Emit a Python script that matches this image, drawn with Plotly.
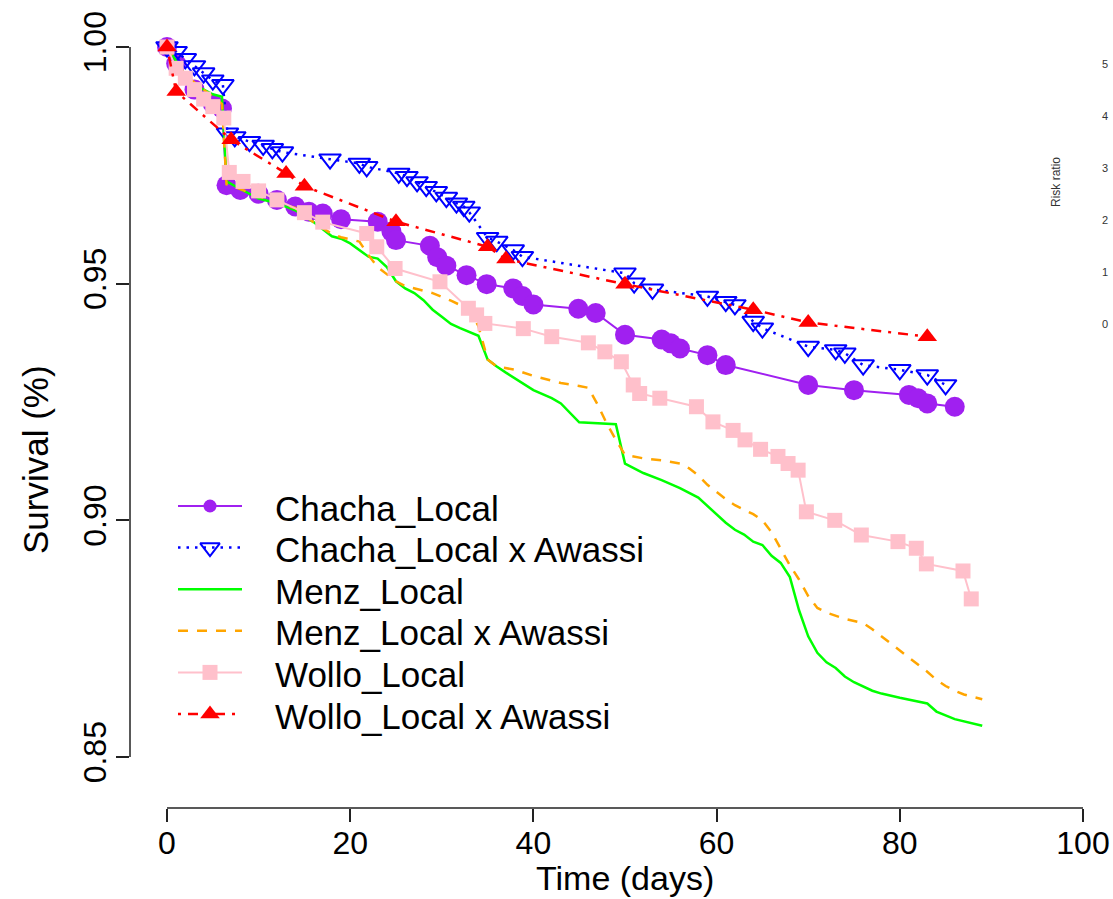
import plotly.graph_objects as go

# ---------------- data ----------------
series_names = ["Chacha_Local", "Chacha_Local x Awassi", "Menz_Local",
                "Menz_Local x Awassi", "Wollo_Local", "Wollo_Local x Awassi"]

chacha_t = [0, 1, 3, 5, 6, 6.5, 8, 10, 12, 14, 15.5, 17, 19, 23, 24.5, 25, 28.7, 29.5, 30.5,
            32.7, 34.9, 37.8, 38.8, 40, 44.9, 46.8, 50, 54, 55, 56, 59, 61, 70, 75, 81, 82, 83, 86]
chacha_s = [1.0, 0.9965, 0.991, 0.988, 0.987, 0.9708, 0.9698, 0.969, 0.9677, 0.9663, 0.9652,
            0.9648, 0.9636, 0.9631, 0.961, 0.9592, 0.958, 0.9556, 0.9538, 0.9518, 0.9499,
            0.949, 0.9474, 0.9456, 0.9447, 0.9438, 0.9392, 0.9382, 0.9374, 0.9363, 0.9349,
            0.9328, 0.9286, 0.9275, 0.9265, 0.9258, 0.9247, 0.924]

chachax_t = [0, 1, 2, 3, 4, 5, 6.1, 6.6, 7.4, 9, 10.5, 11.5, 12.6, 17.8, 21, 21.8, 25.3, 26.2,
             27.3, 28.3, 29.4, 30.5, 31.6, 32.4, 33, 35, 36, 37.8, 38.8, 50, 51, 53, 59, 61,
             62, 64, 65, 70, 73, 74, 76, 80, 83, 85]
chachax_s = [1.0, 0.999, 0.9975, 0.996, 0.9945, 0.993, 0.992, 0.9818, 0.981, 0.980, 0.9792,
             0.9785, 0.9778, 0.9763, 0.9754, 0.9747, 0.9733, 0.9726, 0.9715, 0.9705, 0.9694,
             0.9682, 0.967, 0.9663, 0.9651, 0.9597, 0.9589, 0.9571, 0.9557, 0.9522, 0.9501,
             0.9488, 0.9473, 0.9462, 0.9455, 0.942, 0.9406, 0.9367, 0.936, 0.9353, 0.9328,
             0.9318, 0.9307, 0.9286]

menz_t = [0, 1, 2, 3, 4, 5, 6, 6.5, 8, 10, 12, 14, 16, 18, 19, 20, 22, 23, 24, 25, 26, 27, 28,
          29, 30, 31, 32, 33, 34, 35, 36, 37, 38, 40, 42, 43, 45, 47, 49, 50, 52, 54, 56, 58,
          59, 61, 62, 63, 64, 65, 66, 67, 68, 69, 70, 71, 72, 73, 74, 75, 77, 78, 80, 82, 83,
          84, 86, 89]
menz_s = [1.0, 0.997, 0.994, 0.992, 0.991, 0.990, 0.9895, 0.9716, 0.970, 0.968, 0.967, 0.9655,
          0.963, 0.960, 0.9595, 0.9585, 0.9557, 0.9553, 0.9535, 0.9505, 0.949, 0.948, 0.9465,
          0.9445, 0.943, 0.9415, 0.9406, 0.9398, 0.939, 0.934, 0.9325, 0.9312, 0.930, 0.9275,
          0.9258, 0.9247, 0.9207, 0.9205, 0.9203, 0.912, 0.910, 0.9085, 0.9068, 0.9048, 0.903,
          0.8995, 0.898, 0.897, 0.8955, 0.8948, 0.8925, 0.891, 0.888, 0.881, 0.8755, 0.872,
          0.870, 0.8688, 0.867, 0.8658, 0.864, 0.8634, 0.8625, 0.8617, 0.8613, 0.8596, 0.858,
          0.8566]

menzx_t = [0, 1, 2, 3, 4, 5, 6, 6.5, 8, 10, 12, 14, 16, 18, 19, 21, 22, 23, 24, 25, 26, 28, 29,
           31, 33, 34, 35, 36, 38, 40, 43, 45, 46, 47, 48, 49, 50, 52, 54, 56, 57, 58, 59, 61,
           62, 64, 65, 66, 67, 68, 69, 70, 71, 72, 74, 76, 77, 78, 79, 80, 81, 82, 83, 84, 85,
           86, 87, 89]
menzx_s = [1.0, 0.997, 0.994, 0.9925, 0.991, 0.9895, 0.988, 0.971, 0.970, 0.9685, 0.967, 0.966,
           0.963, 0.9605, 0.9598, 0.9589, 0.956, 0.9535, 0.952, 0.9505, 0.9495, 0.9485, 0.948,
           0.9464, 0.9446, 0.941, 0.934, 0.9325, 0.9318, 0.9305, 0.929, 0.9284, 0.928, 0.9245,
           0.9205, 0.917, 0.9138, 0.9131, 0.9127, 0.912, 0.911, 0.9095, 0.9075, 0.9045, 0.9032,
           0.9013, 0.900, 0.8975, 0.894, 0.8905, 0.8875, 0.884, 0.8815, 0.8805, 0.8792, 0.8783,
           0.877, 0.8755, 0.874, 0.8725, 0.871, 0.8695, 0.868, 0.8663, 0.865, 0.864, 0.8632,
           0.8622]

wollo_t = [0, 1, 2, 3, 4, 5, 6.2, 6.8, 8.3, 10, 12, 15, 17, 21.8, 22.9, 24.9, 29.8, 32.9, 33.8,
           34.7, 38.9, 42, 46, 47.8, 49.6, 50.9, 51.6, 53.8, 57.8, 59.6, 61.8, 63.1, 64.8, 66.7,
           67.8, 68.9, 69.8, 72.9, 75.8, 79.8, 81.8, 82.9, 86.9, 87.8]
wollo_s = [1.0, 0.9955, 0.9934, 0.991, 0.989, 0.9874, 0.985, 0.9735, 0.9716, 0.9696, 0.9677,
           0.965, 0.963, 0.9606, 0.9578, 0.9532, 0.9504, 0.9448, 0.9434, 0.9416, 0.9405, 0.9388,
           0.9375, 0.9356, 0.9335, 0.9286, 0.9268, 0.9258, 0.924, 0.9208, 0.919, 0.917, 0.915,
           0.9135, 0.912, 0.9106, 0.9018, 0.900, 0.8969, 0.8955, 0.8941, 0.8908, 0.8893, 0.8834]

wollox_t = [0, 1, 7, 13, 15, 25, 35, 37, 50, 64, 70, 83]
wollox_s = [1.0, 0.9906, 0.9804, 0.9733, 0.9706, 0.9631, 0.9578, 0.9552, 0.9499, 0.9445,
            0.9418, 0.9388]

x_ticks = [0, 20, 40, 60, 80, 100]
y_ticks = [0.85, 0.90, 0.95, 1.00]
y_tick_labels = ["0.85", "0.90", "0.95", "1.00"]
risk_ticks = ["5", "4", "3", "2", "1", "0"]

# ---------------- layout geometry (pixels) ----------------
W, H = 1113, 899
PL, PR, PT, PB = 130, 1100, 30, 808          # plot area box
X0PX, X100PX = 167, 1083                      # pixel of t=0 and t=100
Y100PX, Y085PX = 47, 757                      # pixel of S=1.00 and S=0.85
xs = (X100PX - X0PX) / 100.0
ys = (Y085PX - Y100PX) / 0.15
x_range = [(PL - X0PX) / xs, (PR - X0PX) / xs]
y_range = [0.85 - (PB - Y085PX) / ys, 1.0 + (Y100PX - PT) / ys]


def pxx(px):
    return (px - PL) / (PR - PL)


def pxy(py):
    return (PB - py) / (PB - PT)


FONT = "Liberation Sans, Arial, Helvetica, sans-serif"

styles = [
    dict(color="#A020F0", width=2, dash="solid", symbol="circle", size=20, lsize=13, mode="lines+markers"),
    dict(color="#0000FF", width=2.5, dash="2.5px,6px", symbol="triangle-down-open", size=19, lsize=17, mode="lines+markers"),
    dict(color="#00FF00", width=2.5, dash="solid", symbol=None, size=0, lsize=0, mode="lines"),
    dict(color="#FFA500", width=2.5, dash="10px,9px", symbol=None, size=0, lsize=0, mode="lines"),
    dict(color="#FFC0CB", width=2, dash="solid", symbol="square", size=15, lsize=15, mode="lines+markers"),
    dict(color="#FF0000", width=2.5, dash="3px,7px,10px,7px", symbol="triangle-up", size=17, lsize=17, mode="lines+markers"),
]
data = [(chacha_t, chacha_s), (chachax_t, chachax_s), (menz_t, menz_s),
        (menzx_t, menzx_s), (wollo_t, wollo_s), (wollox_t, wollox_s)]

fig = go.Figure()
for name, (t, s), st in zip(series_names, data, styles):
    kw = dict(x=t, y=s, name=name, mode=st["mode"], showlegend=False, cliponaxis=False,
              line=dict(color=st["color"], width=st["width"], dash=st["dash"]))
    if st["symbol"]:
        mk = dict(symbol=st["symbol"], size=st["size"], color=st["color"])
        if st["symbol"].endswith("open"):
            mk["line"] = dict(color=st["color"], width=2)
        else:
            mk["line"] = dict(width=0)
        kw["marker"] = mk
    fig.add_trace(go.Scatter(**kw))

# ---------------- manual legend (pixel-space overlay axes) ----------------
LEG_X0, LEG_XM, LEG_X1, LEG_TX = 178, 210, 242, 273
LEG_ROW0, LEG_DY = 506, 41.6
annotations = []
for i, (name, st) in enumerate(zip(series_names, styles)):
    ry = LEG_ROW0 + i * LEG_DY
    fig.add_trace(go.Scatter(x=[LEG_X0, LEG_X1], y=[ry, ry], xaxis="x2", yaxis="y2", mode="lines",
                             showlegend=False, hoverinfo="skip",
                             line=dict(color=st["color"], width=st["width"], dash=st["dash"])))
    if st["symbol"]:
        mk = dict(symbol=st["symbol"], size=st["lsize"], color=st["color"])
        mk["line"] = dict(color=st["color"], width=2) if st["symbol"].endswith("open") else dict(width=0)
        fig.add_trace(go.Scatter(x=[LEG_XM], y=[ry], xaxis="x2", yaxis="y2", mode="markers",
                                 showlegend=False, hoverinfo="skip", marker=mk))
    annotations.append(dict(x=pxx(LEG_TX), y=pxy(ry + 2), xref="paper", yref="paper", text=name,
                            showarrow=False, xanchor="left", yanchor="middle",
                            font=dict(size=35, color="black", family=FONT)))

# axis titles
annotations.append(dict(x=pxx(625), y=pxy(898), xref="paper", yref="paper", text="Time (days)",
                        showarrow=False, xanchor="center", yanchor="bottom", borderpad=0,
                        font=dict(size=34, color="black", family=FONT)))
annotations.append(dict(x=pxx(35), y=pxy(460), xref="paper", yref="paper", text="Survival (%)",
                        showarrow=False, xanchor="center", yanchor="middle", textangle=-90,
                        font=dict(size=35, color="black", family=FONT)))

# neighbouring panel (Risk ratio axis) at right edge
annotations.append(dict(x=pxx(1056), y=pxy(182), xref="paper", yref="paper", text="Risk ratio",
                        showarrow=False, xanchor="center", yanchor="middle", textangle=-90,
                        font=dict(size=12, color="#333333", family=FONT)))
for j, lab in enumerate(risk_ticks):
    annotations.append(dict(x=pxx(1101), y=pxy(64 + j * 52), xref="paper", yref="paper", text=lab,
                            showarrow=False, xanchor="left", yanchor="middle", borderpad=0,
                            font=dict(size=11, color="#333333", family=FONT)))

# R-style axis lines spanning only the tick range
shapes = [
    dict(type="line", xref="x", yref="y domain", x0=x_ticks[0], x1=x_ticks[-1], y0=0, y1=0,
         line=dict(color="#222222", width=1.5)),
    dict(type="line", xref="x domain", yref="y", x0=0, x1=0, y0=y_ticks[0], y1=y_ticks[-1],
         line=dict(color="#222222", width=1.5)),
]

fig.update_layout(
    template="none",
    width=W, height=H,
    margin=dict(l=PL, r=W - PR, t=PT, b=H - PB, pad=0, autoexpand=False),
    paper_bgcolor="white", plot_bgcolor="white",
    showlegend=False,
    font=dict(family=FONT, color="black"),
    xaxis=dict(range=x_range, tickvals=x_ticks, ticktext=[str(v) for v in x_ticks],
               ticks="outside", ticklen=13, tickwidth=1.5, tickcolor="#222222",
               showgrid=False, zeroline=False, showline=False, automargin=False,
               ticklabelstandoff=-6,
               tickfont=dict(size=32, family=FONT, color="black")),
    yaxis=dict(range=y_range, tickvals=y_ticks, ticktext=y_tick_labels, tickangle=-90,
               ticks="outside", ticklen=13, tickwidth=1.5, tickcolor="#222222",
               showgrid=False, zeroline=False, showline=False, automargin=False,
               ticklabelstandoff=-3,
               tickfont=dict(size=32, family=FONT, color="black")),
    xaxis2=dict(overlaying="x", range=[PL, PR], visible=False, fixedrange=True),
    yaxis2=dict(overlaying="y", range=[PB, PT], visible=False, fixedrange=True),
    annotations=annotations,
    shapes=shapes,
)

fig.write_html("out.html")
